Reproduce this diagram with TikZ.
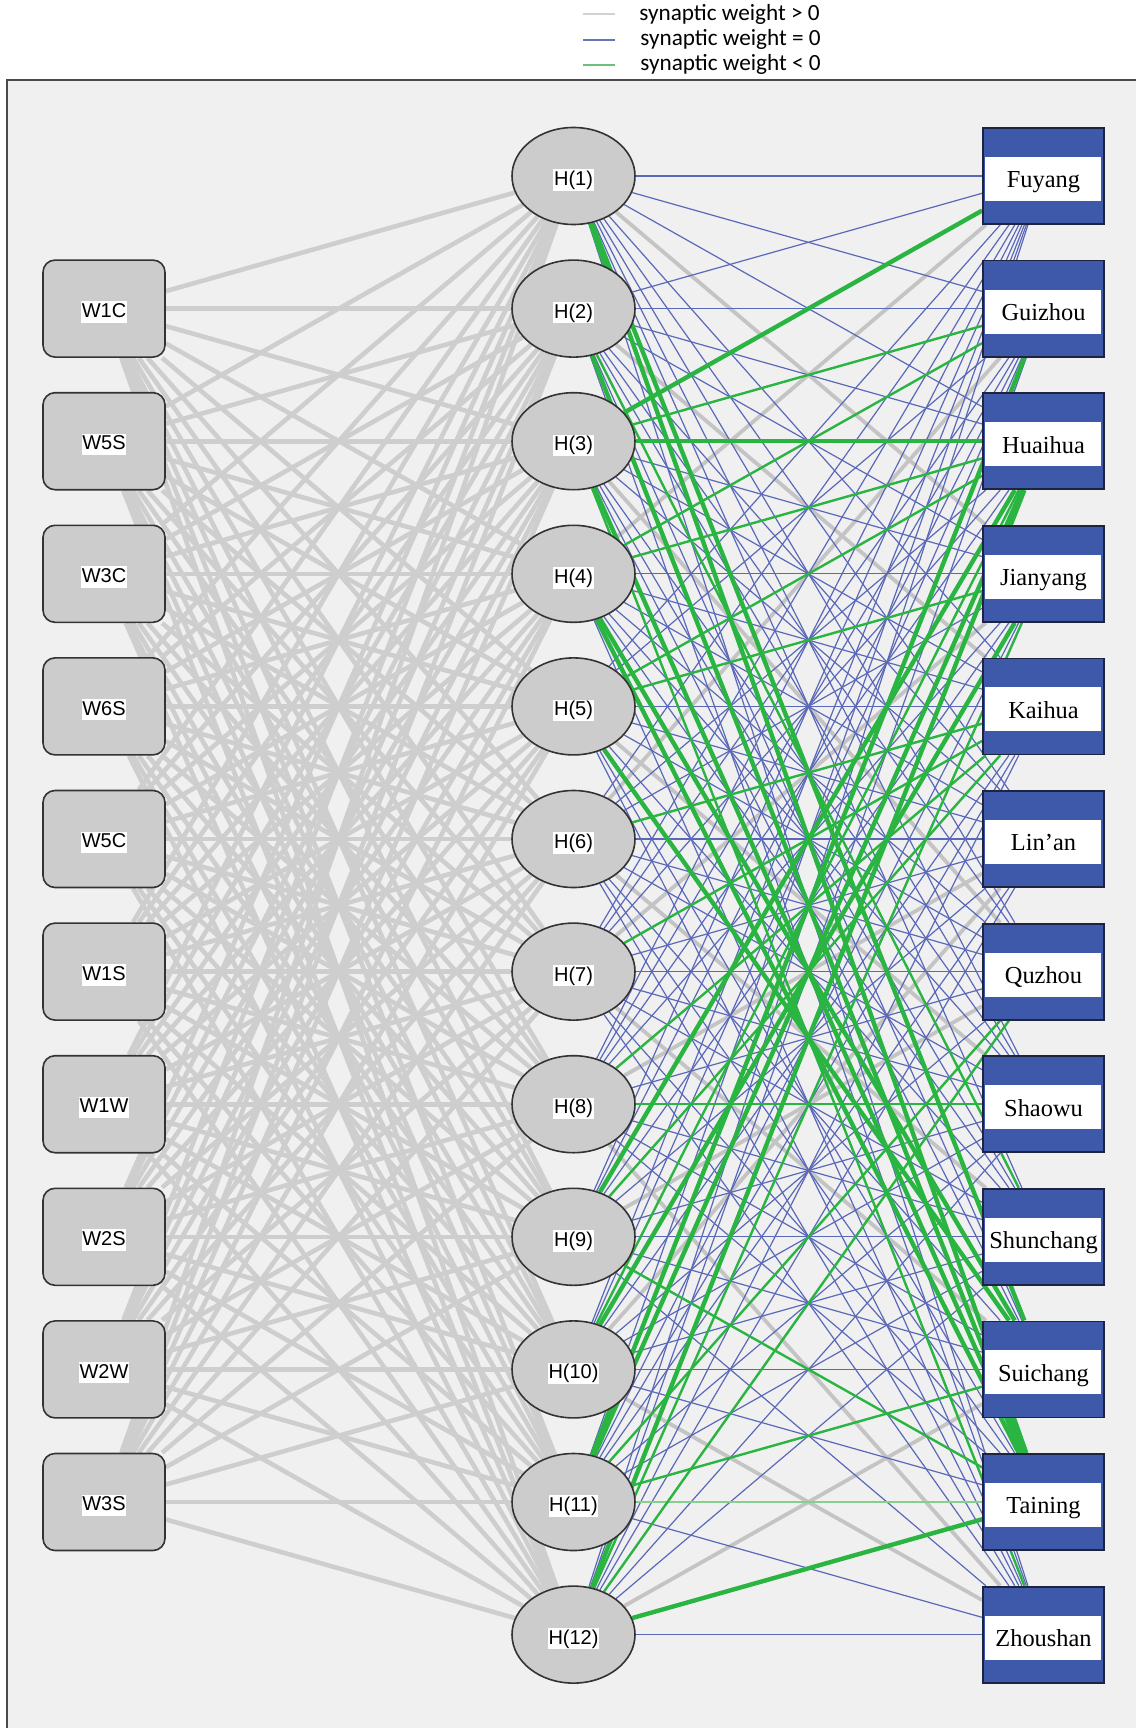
\documentclass[tikz,border=0pt]{standalone}
\usepackage{fontspec}
\setmainfont{Liberation Serif}
\newfontfamily\arialf{Liberation Sans}
\newfontfamily\calf{Carlito}
\usetikzlibrary{shapes.geometric}
\pgfdeclarelayer{frame}
\pgfdeclarelayer{Lih}
\pgfdeclarelayer{Lr}
\pgfdeclarelayer{Lb}
\pgfdeclarelayer{Ll}
\pgfdeclarelayer{Lg}
\pgfdeclarelayer{LG}
\pgfsetlayers{frame,Lih,Lr,Lb,Ll,Lg,LG,main}
\definecolor{bgcol}{HTML}{F0F0F0}
\definecolor{framecol}{HTML}{4A4A4A}
\definecolor{nodegray}{HTML}{CCCCCC}
\definecolor{boxline}{HTML}{333333}
\definecolor{outblue}{HTML}{3E58AA}
\definecolor{outline}{HTML}{1E2440}
\definecolor{ihgray}{HTML}{CECECE}
\definecolor{posgray}{HTML}{C4C4C4}
\definecolor{zeroblue}{HTML}{5A68B8}
\definecolor{neggreen}{HTML}{2AB441}
\definecolor{neglight}{HTML}{86CF8C}
\definecolor{leggray}{HTML}{D2D2D2}
\definecolor{legblue}{HTML}{6675B5}
\definecolor{leggreen}{HTML}{6FBE79}
\begin{document}
\begin{tikzpicture}[x=0.5pt,y=-0.5pt,
  inbox/.style={draw=boxline,line width=0.8pt,fill=nodegray,rounded corners=6pt,
    minimum width=61pt,minimum height=48.5pt,inner sep=0pt},
  hid/.style={ellipse,draw=boxline,line width=0.8pt,fill=nodegray,
    minimum width=61.5pt,minimum height=48.5pt,inner sep=0pt},
  outbox/.style={draw=outline,line width=0.9pt,fill=outblue,
    minimum width=60.5pt,minimum height=48pt,inner sep=0pt,
    path picture={\fill[white] ([xshift=1pt,yshift=9.5pt]path picture bounding box.west)
      rectangle ([xshift=-1.5pt,yshift=-12.5pt]path picture bounding box.east);}},
  slab/.style={font=\arialf\fontsize{10}{12}\selectfont,fill=white,inner xsep=0.3pt,
    inner ysep=0.5pt,text height=7.6pt,text depth=2.1pt},
  olab/.style={font=\fontsize{12.2}{14}\selectfont,inner sep=0pt,text height=8pt,text depth=2.5pt},
  legtxt/.style={font=\calf\fontsize{11.6}{13}\selectfont,inner sep=0pt,anchor=west,
    text height=5.5pt,text depth=1.2pt},
  ih/.style={draw=ihgray,line width=2.3pt},
  hob/.style={draw=zeroblue,line width=0.6pt},
  hog/.style={draw=neggreen,line width=1.2pt},
  hoG/.style={draw=neggreen,line width=2.2pt},
  hol/.style={draw=neglight,line width=1.2pt},
  hor/.style={draw=posgray,line width=1.9pt}]
\useasboundingbox (0,0) rectangle (1136,1728);
\begin{pgfonlayer}{frame}
  \fill[bgcol] (7,80) rectangle (1136,1728);
  \draw[framecol,line width=1.1pt] (7,1728) -- (7,80) -- (1136,80);
\end{pgfonlayer}
% legend
\coordinate (la1) at (583,14); \coordinate (lb1) at (615,14);
\coordinate (la2) at (583,40); \coordinate (lb2) at (615,40);
\coordinate (la3) at (583,65); \coordinate (lb3) at (615,65);
\draw[leggray,line width=1.1pt] (la1) -- (lb1);
\draw[legblue,line width=1.3pt] (la2) -- (lb2);
\draw[leggreen,line width=1.3pt] (la3) -- (lb3);
\node[legtxt] (lt1) at (639,16) {synaptic weight > 0};
\node[legtxt] (lt2) at (640,41) {synaptic weight = 0};
\node[legtxt] (lt3) at (640,66) {synaptic weight < 0};
% input nodes
\foreach \n [count=\i] in {W1C,W5S,W3C,W6S,W5C,W1S,W1W,W2S,W2W,W3S}{
  \node[inbox] (i\i) at (104,{176+132.6*\i}) {};
  \node[slab] (li\i) at ([yshift=-1.6pt]i\i.center) {\n};
}
% hidden nodes
\foreach \i in {1,...,12}{
  \node[hid] (h\i) at (573.5,{176+132.6*(\i-1)}) {};
  \node[slab] (lh\i) at ([yshift=-2pt]h\i.center) {H(\i)};
}
% output nodes
\foreach \n [count=\i] in {Fuyang,Guizhou,Huaihua,Jianyang,Kaihua,Lin'an,Quzhou,Shaowu,Shunchang,Suichang,Taining,Zhoushan}{
  \node[outbox] (o\i) at (1043.5,{176+132.6*(\i-1)}) {};
  \node[olab] (lo\i) at ([yshift=-3.2pt]o\i.center) {\n};
}
% input -> hidden
\begin{pgfonlayer}{Lih}
\foreach \i in {1,...,10}{
  \foreach \h in {1,...,12}{
    \draw[ih] (i\i) -- (h\h);
  }
}
\end{pgfonlayer}
% hidden -> output
\foreach \h/\row in {
  1/{b,b,b,r,b,b,b,b,b,G,G,b},
  2/{b,b,b,b,r,b,b,b,g,b,G,b},
  3/{G,g,G,b,b,b,r,b,b,b,G,g},
  4/{r,g,g,b,b,b,b,b,b,G,G,b},
  5/{b,b,g,g,b,b,b,r,b,G,b,b},
  6/{b,r,b,b,g,b,b,b,r,b,b,b},
  7/{b,b,b,r,g,b,b,b,b,r,b,b},
  8/{b,b,b,b,g,r,b,g,b,b,b,r},
  9/{b,b,G,b,g,b,r,b,b,b,g,b},
  10/{b,b,g,G,b,r,b,b,b,b,b,r},
  11/{b,G,G,b,b,b,g,b,b,g,l,b},
  12/{b,b,G,g,b,b,g,b,b,r,G,b}}{
  \foreach \c [count=\o] in \row {
    \begin{pgfonlayer}{L\c}
      \draw[ho\c] (h\h) -- (o\o);
    \end{pgfonlayer}
  }
}
\end{tikzpicture}
\end{document}
